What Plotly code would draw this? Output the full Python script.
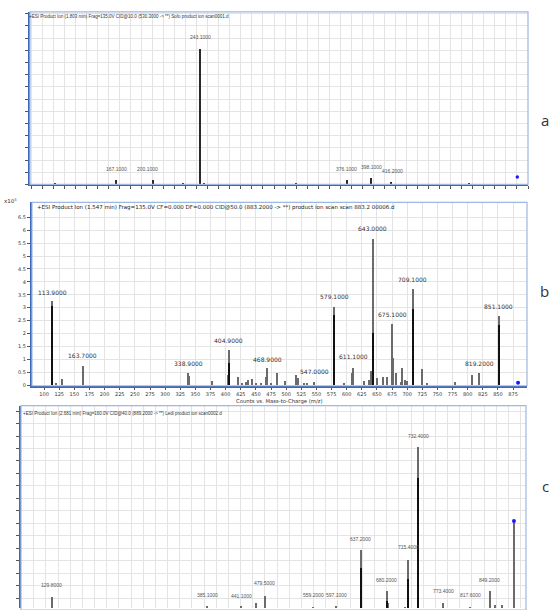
import plotly.graph_objects as go

# ---------------- DATA ----------------
# Panel a (precursor 530.3)
a_mz = [112, 167.1, 200.1, 228, 243.1, 247, 330, 376.1, 398.1, 416.2, 487]
a_int = [0.1, 0.38, 0.38, 0.1, 11.09, 0.1, 0.1, 0.33, 0.52, 0.2, 0.1]
a_label_mz = [167.1, 195.0, 243.1, 375.5, 398.1, 417.5]
a_label_y = [1.28, 1.28, 12.07, 1.23, 1.42, 1.14]
a_label_txt = ["167.1000", "200.1000", "243.1000", "376.1000", "398.1000", "416.2000"]
a_prec = [530.3]
a_prec_y = [0.6]

# Panel b (precursor 883.2), intensities x10^5
b_mz = [113.9, 120, 130, 163.7, 338.0, 340.0, 378, 403.5, 404.9, 421, 427, 433, 437, 443,
        450, 458, 467, 468.9, 475, 485, 499, 516.7, 519, 530, 535, 547, 578.9, 596, 609,
        611.1, 628, 637, 641, 643.0, 651, 659.6, 666, 675.1, 677, 682, 690, 692, 697, 700.5,
        709.1, 724.7, 733, 779, 808, 819.2, 851.1]
b_int = [3.24, 0.05, 0.22, 0.75, 0.45, 0.35, 0.15, 0.4, 1.35, 0.3, 0.05, 0.1, 0.18, 0.22,
         0.08, 0.04, 0.3, 0.67, 0.05, 0.45, 0.15, 0.4, 0.25, 0.05, 0.05, 0.12, 3.0, 0.05, 0.45,
         0.67, 0.15, 0.2, 0.55, 5.64, 0.25, 0.3, 0.3, 2.37, 1.05, 0.45, 0.1, 0.64, 0.2, 0.15,
         3.72, 0.6, 0.05, 0.1, 0.4, 0.45, 2.68]
b_core_mz = [113.9, 404.9, 578.9, 643.0, 709.1, 851.1]
b_core_int = [3.05, 0.83, 2.7, 2.0, 2.95, 2.33]
b_label_mz = [113.9, 163.7, 338.9, 404.9, 468.9, 547.0, 579.1, 611.1, 643.0, 675.1, 709.1, 819.2, 851.1]
b_label_y = [3.6, 1.15, 0.85, 1.73, 1.0, 0.55, 3.42, 1.1, 6.05, 2.75, 4.1, 0.83, 3.05]
b_label_txt = ["113.9000", "163.7000", "338.9000", "404.9000", "468.9000", "547.0000", "579.1000",
               "611.1000", "643.0000", "675.1000", "709.1000", "819.2000", "851.1000"]
b_xticks = list(range(100, 876, 25))
b_yticks = [0, 0.5, 1, 1.5, 2, 2.5, 3, 3.5, 4, 4.5, 5, 5.5, 6, 6.5]
b_prec = [883.2]
b_prec_y = [0.1]

# Panel c (precursor 889.2)
c_mz = [129.8, 385.1, 441.1, 466, 479.5, 559.2, 597.1, 637.2, 680.2, 683, 710, 715.4, 732.4,
        773.4, 817.6, 849.2, 858, 870, 889.2]
c_int = [2.13, 1.41, 1.41, 1.6, 2.21, 1.33, 1.41, 5.92, 2.59, 1.6, 1.33, 5.12, 14.13,
         1.6, 1.3, 2.59, 1.47, 1.47, 8.19]
c_core_mz = [637.2, 680.2, 715.4, 732.4]
c_core_int = [4.4, 1.75, 3.52, 11.7]
c_label_mz = [129.8, 385.1, 441.1, 479.5, 559.2, 597.1, 637.2, 680.2, 715.4, 732.4, 773.4, 817.6, 849.2]
c_label_y = [3.07, 2.24, 2.2, 3.2, 2.24, 2.24, 6.7, 3.44, 6.1, 15.0, 2.56, 2.24, 3.44]
c_label_txt = ["129.8000", "385.1000", "441.1000", "479.5000", "559.2000", "597.1000", "637.2000",
               "680.2000", "715.4000", "732.4000", "773.4000", "817.6000", "849.2000"]
c_prec = [889.2]
c_prec_y = [8.19]

titles = [
    "+ESI Product Ion (1.803 min) Frag=135.0V CID@10.0 (530.3000 -> **) Sofo product ion scan0001.d",
    "+ESI Product Ion (1.547 min) Frag=135.0V CF=0.000 DF=0.000 CID@50.0 (883.2000 -> **) product ion scan scan 883.2 00006.d",
    "+ESI Product Ion (2.681 min) Frag=160.0V CID@40.0 (889.2000 -> **) Ledi product ion scan0002.d",
]
panel_letters = ["a", "b", "c"]

# ---------------- LAYOUT HELPERS ----------------
W, H = 550, 610
def px(x):
    return x / W
def py(y):
    return 1 - y / H

GRID = "#e4e4e4"
AXBLUE = "#3f67b8"
FRAME = "#9db8e2"
GRAYBAR = "#6b6b6b"
BLACKBAR = "#111111"

fig = go.Figure()

# Panel a bars
fig.add_trace(go.Bar(x=a_mz, y=a_int, width=1.2, marker=dict(color="#2a2a2a", line_width=0),
                     xaxis="x", yaxis="y", showlegend=False, hoverinfo="skip"))
fig.add_trace(go.Scatter(x=a_prec, y=a_prec_y, mode="markers", marker=dict(color="#1a1aff", size=3.5),
                         xaxis="x", yaxis="y", showlegend=False))
# Panel b bars
fig.add_trace(go.Bar(x=b_mz, y=b_int, width=2.0, marker=dict(color=GRAYBAR, line_width=0),
                     xaxis="x2", yaxis="y2", showlegend=False))
fig.add_trace(go.Bar(x=b_core_mz, y=b_core_int, width=2.0, marker=dict(color=BLACKBAR, line_width=0),
                     xaxis="x2", yaxis="y2", showlegend=False))
fig.add_trace(go.Scatter(x=b_prec, y=b_prec_y, mode="markers", marker=dict(color="#1a1aff", size=4),
                         xaxis="x2", yaxis="y2", showlegend=False))
# Panel c bars
fig.add_trace(go.Bar(x=c_mz, y=c_int, width=2.0, marker=dict(color=GRAYBAR, line_width=0),
                     xaxis="x3", yaxis="y3", showlegend=False))
fig.add_trace(go.Bar(x=c_core_mz, y=c_core_int, width=2.0, marker=dict(color=BLACKBAR, line_width=0),
                     xaxis="x3", yaxis="y3", showlegend=False))
fig.add_trace(go.Scatter(x=c_prec, y=c_prec_y, mode="markers", marker=dict(color="#1a1aff", size=4),
                         xaxis="x3", yaxis="y3", showlegend=False))

annotations = []
def peak_labels(xs, ys, txts, xref, yref, size, family, color):
    for x, y, t in zip(xs, ys, txts):
        annotations.append(dict(x=x, y=y, text=t, xref=xref, yref=yref, showarrow=False,
                                font=dict(size=size, family=family, color=color),
                                xanchor="center", yanchor="middle"))

peak_labels(a_label_mz, a_label_y, a_label_txt, "x", "y", 5, "Liberation Sans", "#555")
peak_labels(b_label_mz, b_label_y, b_label_txt, "x2", "y2", 6, "DejaVu Sans", "#333")
peak_labels(c_label_mz, c_label_y, c_label_txt, "x3", "y3", 5, "Liberation Sans", "#555")

# titles inside frames
annotations.append(dict(x=px(27), y=py(17), xref="paper", yref="paper", text=titles[0], showarrow=False,
                        xanchor="left", yanchor="middle", font=dict(size=4.5, family="Liberation Sans", color="#333")))
annotations.append(dict(x=px(35), y=py(208), xref="paper", yref="paper", text=titles[1], showarrow=False,
                        xanchor="left", yanchor="middle", font=dict(size=5.5, family="DejaVu Sans", color="#222")))
annotations.append(dict(x=px(21), y=py(415), xref="paper", yref="paper", text=titles[2], showarrow=False,
                        xanchor="left", yanchor="middle", font=dict(size=4.5, family="Liberation Sans", color="#333")))
# exponent
annotations.append(dict(x=px(2), y=py(201), xref="paper", yref="paper", text="x10<sup>5</sup>", showarrow=False,
                        xanchor="left", yanchor="middle", font=dict(size=5.5, family="DejaVu Sans", color="#333")))
# x-axis title of b
annotations.append(dict(x=px(279), y=py(398.5), xref="paper", yref="paper", text="Counts vs. Mass-to-Charge (m/z)",
                        showarrow=False, xanchor="center", yanchor="top", borderpad=0,
                        font=dict(size=5.3, family="DejaVu Sans", color="#333")))
# panel letters
for letter, yy in zip(panel_letters, [120, 292, 488]):
    annotations.append(dict(x=px(550), y=py(yy), xref="paper", yref="paper", text=letter, showarrow=False,
                            xanchor="right", yanchor="middle", borderpad=0,
                            font=dict(size=15, family="Open Sans", color="#333")))

# frames
shapes = []
for (l, t, r, b) in [(30, 12, 528, 185), (32, 203, 527, 387), (21, 407, 526, 612)]:
    shapes.append(dict(type="rect", xref="paper", yref="paper", x0=px(l), x1=px(r), y0=py(b), y1=py(t),
                       line=dict(color=FRAME, width=1.2), layer="above"))

common_x = dict(showgrid=True, gridcolor=GRID, gridwidth=1, zeroline=False, showline=True,
                linecolor=AXBLUE, linewidth=2, ticks="outside", ticklen=3, tickcolor="#555",
                tickfont=dict(size=5, family="DejaVu Sans", color="#333"))
common_y = dict(showgrid=True, gridcolor=GRID, gridwidth=1, zeroline=False, showline=True,
                linecolor=AXBLUE, linewidth=2, ticks="outside", ticklen=3, tickcolor="#555",
                tickfont=dict(size=5, family="DejaVu Sans", color="#333"))
x2_opts = dict(common_x)
x2_opts.update(ticklen=2)
x3_opts = dict(common_x)
x3_opts.update(showline=False, ticks="")

fig.update_layout(
    width=W, height=H, margin=dict(l=0, r=0, t=0, b=0),
    paper_bgcolor="white", plot_bgcolor="white",
    barmode="overlay", bargap=0,
    showlegend=False,
    xaxis=dict(domain=[px(30), px(528)], range=[89, 540], tick0=0, dtick=10, showticklabels=False,
               anchor="y", **common_x),
    yaxis=dict(domain=[py(185), py(12)], range=[0, 14.15], tick0=0, dtick=1, showticklabels=False,
               anchor="x", **common_y),
    xaxis2=dict(domain=[px(32), px(527)], range=[80, 898], tickvals=b_xticks, ticklabelstandoff=0,
                anchor="y2", **x2_opts),
    yaxis2=dict(domain=[py(387), py(203)], range=[-0.02, 7.08], tickvals=b_yticks,
                anchor="x2", **common_y),
    xaxis3=dict(domain=[px(21), px(526)], range=[79, 909], tick0=0, dtick=20, showticklabels=False,
                anchor="y3", **x3_opts),
    yaxis3=dict(domain=[0, py(407)], range=[1.2, 17.44], tick0=0, dtick=1, showticklabels=False,
                anchor="x3", **common_y),
    annotations=annotations,
    shapes=shapes,
)

fig.write_html("out.html", config={"displayModeBar": False},
               post_script="document.body.style.margin='0';document.body.style.overflow='hidden';")
